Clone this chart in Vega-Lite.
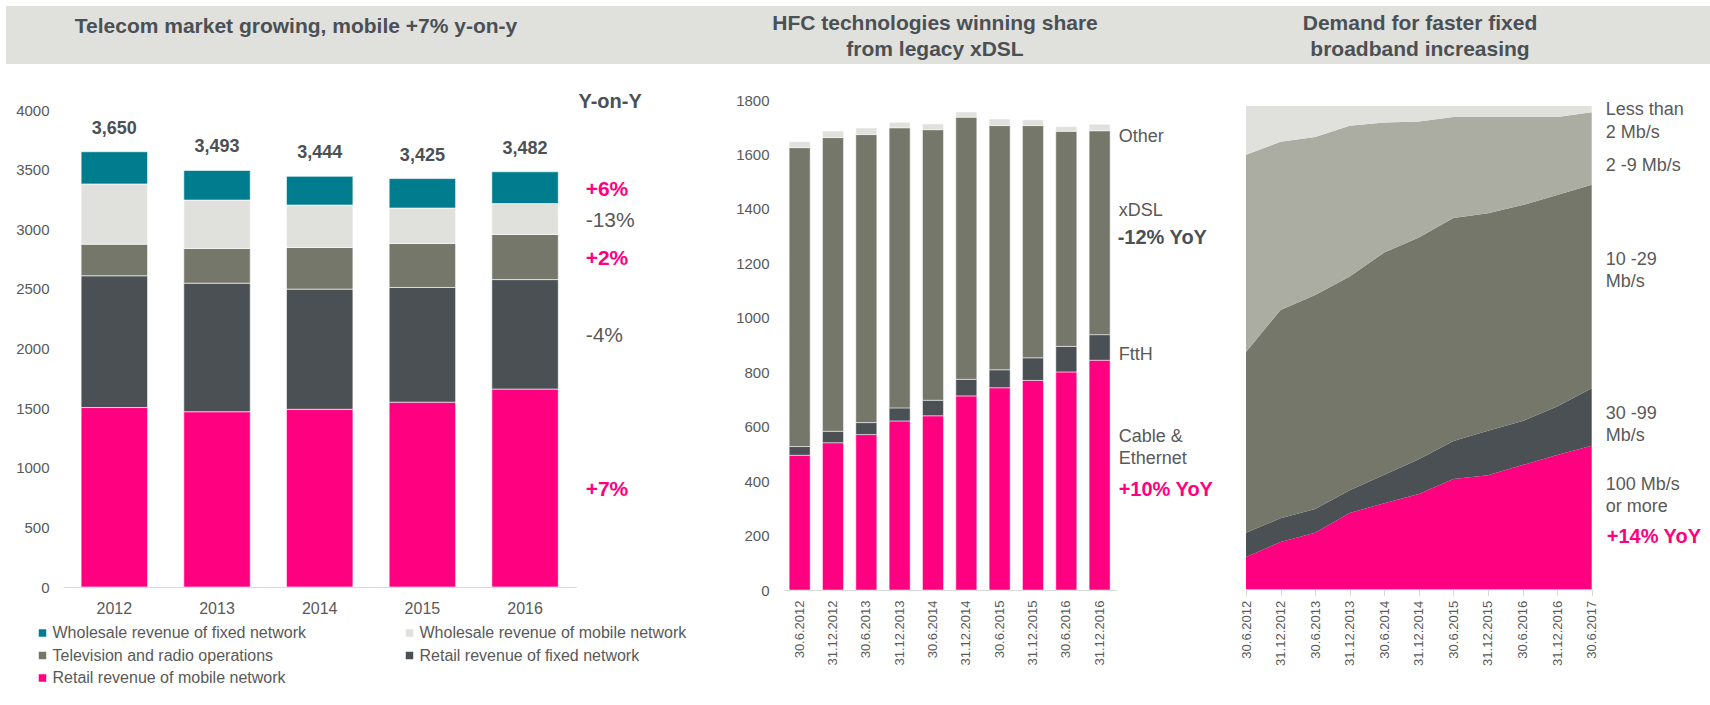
{
  "$schema": "https://vega.github.io/schema/vega-lite/v6.json",
  "background": "white",
  "padding": {"left": 6, "top": 6, "right": 0, "bottom": 0},
  "spacing": 28,
  "config": {
    "view": {"stroke": null},
    "axis": {"grid": false, "labelColor": "#595959", "labelFont": "Liberation Sans"},
    "text": {"font": "Liberation Sans"},
    "title": {"font": "Liberation Sans"}
  },
  "datasets": {
    "revenue": [
      {"year": "2012", "cat": "Retail revenue of mobile network", "value": 1505},
      {"year": "2012", "cat": "Retail revenue of fixed network", "value": 1105},
      {"year": "2012", "cat": "Television and radio operations", "value": 265},
      {"year": "2012", "cat": "Wholesale revenue of mobile network", "value": 505},
      {"year": "2012", "cat": "Wholesale revenue of fixed network", "value": 270},
      {"year": "2013", "cat": "Retail revenue of mobile network", "value": 1470},
      {"year": "2013", "cat": "Retail revenue of fixed network", "value": 1078},
      {"year": "2013", "cat": "Television and radio operations", "value": 291},
      {"year": "2013", "cat": "Wholesale revenue of mobile network", "value": 406},
      {"year": "2013", "cat": "Wholesale revenue of fixed network", "value": 248},
      {"year": "2014", "cat": "Retail revenue of mobile network", "value": 1490},
      {"year": "2014", "cat": "Retail revenue of fixed network", "value": 1008},
      {"year": "2014", "cat": "Television and radio operations", "value": 349},
      {"year": "2014", "cat": "Wholesale revenue of mobile network", "value": 356},
      {"year": "2014", "cat": "Wholesale revenue of fixed network", "value": 241},
      {"year": "2015", "cat": "Retail revenue of mobile network", "value": 1550},
      {"year": "2015", "cat": "Retail revenue of fixed network", "value": 962},
      {"year": "2015", "cat": "Television and radio operations", "value": 369},
      {"year": "2015", "cat": "Wholesale revenue of mobile network", "value": 297},
      {"year": "2015", "cat": "Wholesale revenue of fixed network", "value": 247},
      {"year": "2016", "cat": "Retail revenue of mobile network", "value": 1660, "yoy": "+7%"},
      {"year": "2016", "cat": "Retail revenue of fixed network", "value": 918, "yoy": "-4%"},
      {"year": "2016", "cat": "Television and radio operations", "value": 378, "yoy": "+2%"},
      {"year": "2016", "cat": "Wholesale revenue of mobile network", "value": 260, "yoy": "-13%"},
      {"year": "2016", "cat": "Wholesale revenue of fixed network", "value": 266, "yoy": "+6%"}
    ],
    "connections": [
      {"date": "30.6.2012", "tech": "Cable &\nEthernet", "value": 495},
      {"date": "30.6.2012", "tech": "FttH", "value": 32},
      {"date": "30.6.2012", "tech": "xDSL", "value": 1098},
      {"date": "30.6.2012", "tech": "Other", "value": 22},
      {"date": "31.12.2012", "tech": "Cable &\nEthernet", "value": 541},
      {"date": "31.12.2012", "tech": "FttH", "value": 42},
      {"date": "31.12.2012", "tech": "xDSL", "value": 1079},
      {"date": "31.12.2012", "tech": "Other", "value": 24},
      {"date": "30.6.2013", "tech": "Cable &\nEthernet", "value": 571},
      {"date": "30.6.2013", "tech": "FttH", "value": 44},
      {"date": "30.6.2013", "tech": "xDSL", "value": 1058},
      {"date": "30.6.2013", "tech": "Other", "value": 24},
      {"date": "31.12.2013", "tech": "Cable &\nEthernet", "value": 621},
      {"date": "31.12.2013", "tech": "FttH", "value": 48},
      {"date": "31.12.2013", "tech": "xDSL", "value": 1029},
      {"date": "31.12.2013", "tech": "Other", "value": 20},
      {"date": "30.6.2014", "tech": "Cable &\nEthernet", "value": 640},
      {"date": "30.6.2014", "tech": "FttH", "value": 57},
      {"date": "30.6.2014", "tech": "xDSL", "value": 994},
      {"date": "30.6.2014", "tech": "Other", "value": 21},
      {"date": "31.12.2014", "tech": "Cable &\nEthernet", "value": 713},
      {"date": "31.12.2014", "tech": "FttH", "value": 61},
      {"date": "31.12.2014", "tech": "xDSL", "value": 963},
      {"date": "31.12.2014", "tech": "Other", "value": 19},
      {"date": "30.6.2015", "tech": "Cable &\nEthernet", "value": 743},
      {"date": "30.6.2015", "tech": "FttH", "value": 66},
      {"date": "30.6.2015", "tech": "xDSL", "value": 897},
      {"date": "30.6.2015", "tech": "Other", "value": 24},
      {"date": "31.12.2015", "tech": "Cable &\nEthernet", "value": 770},
      {"date": "31.12.2015", "tech": "FttH", "value": 83},
      {"date": "31.12.2015", "tech": "xDSL", "value": 853},
      {"date": "31.12.2015", "tech": "Other", "value": 21},
      {"date": "30.6.2016", "tech": "Cable &\nEthernet", "value": 801},
      {"date": "30.6.2016", "tech": "FttH", "value": 94},
      {"date": "30.6.2016", "tech": "xDSL", "value": 790},
      {"date": "30.6.2016", "tech": "Other", "value": 17},
      {"date": "31.12.2016", "tech": "Cable &\nEthernet", "value": 844, "yoy": "+10% YoY"},
      {"date": "31.12.2016", "tech": "FttH", "value": 94},
      {"date": "31.12.2016", "tech": "xDSL", "value": 749, "yoy": "-12% YoY"},
      {"date": "31.12.2016", "tech": "Other", "value": 24}
    ],
    "speeds": [
      {"date": "30.6.2012", "band": "100 Mb/s\nor more", "share": 6.7},
      {"date": "30.6.2012", "band": "30 -99\nMb/s", "share": 5.0},
      {"date": "30.6.2012", "band": "10 -29\nMb/s", "share": 37.4},
      {"date": "30.6.2012", "band": "2 -9 Mb/s", "share": 40.8},
      {"date": "30.6.2012", "band": "Less than\n2 Mb/s", "share": 10.1},
      {"date": "31.12.2012", "band": "100 Mb/s\nor more", "share": 9.8},
      {"date": "31.12.2012", "band": "30 -99\nMb/s", "share": 4.9},
      {"date": "31.12.2012", "band": "10 -29\nMb/s", "share": 43.1},
      {"date": "31.12.2012", "band": "2 -9 Mb/s", "share": 34.8},
      {"date": "31.12.2012", "band": "Less than\n2 Mb/s", "share": 7.4},
      {"date": "30.6.2013", "band": "100 Mb/s\nor more", "share": 11.7},
      {"date": "30.6.2013", "band": "30 -99\nMb/s", "share": 4.9},
      {"date": "30.6.2013", "band": "10 -29\nMb/s", "share": 44.3},
      {"date": "30.6.2013", "band": "2 -9 Mb/s", "share": 32.7},
      {"date": "30.6.2013", "band": "Less than\n2 Mb/s", "share": 6.4},
      {"date": "31.12.2013", "band": "100 Mb/s\nor more", "share": 15.8},
      {"date": "31.12.2013", "band": "30 -99\nMb/s", "share": 4.7},
      {"date": "31.12.2013", "band": "10 -29\nMb/s", "share": 44.2},
      {"date": "31.12.2013", "band": "2 -9 Mb/s", "share": 31.2},
      {"date": "31.12.2013", "band": "Less than\n2 Mb/s", "share": 4.1},
      {"date": "30.6.2014", "band": "100 Mb/s\nor more", "share": 17.8},
      {"date": "30.6.2014", "band": "30 -99\nMb/s", "share": 5.9},
      {"date": "30.6.2014", "band": "10 -29\nMb/s", "share": 46.0},
      {"date": "30.6.2014", "band": "2 -9 Mb/s", "share": 26.9},
      {"date": "30.6.2014", "band": "Less than\n2 Mb/s", "share": 3.4},
      {"date": "31.12.2014", "band": "100 Mb/s\nor more", "share": 19.7},
      {"date": "31.12.2014", "band": "30 -99\nMb/s", "share": 7.2},
      {"date": "31.12.2014", "band": "10 -29\nMb/s", "share": 45.9},
      {"date": "31.12.2014", "band": "2 -9 Mb/s", "share": 24.0},
      {"date": "31.12.2014", "band": "Less than\n2 Mb/s", "share": 3.2},
      {"date": "30.6.2015", "band": "100 Mb/s\nor more", "share": 22.8},
      {"date": "30.6.2015", "band": "30 -99\nMb/s", "share": 7.9},
      {"date": "30.6.2015", "band": "10 -29\nMb/s", "share": 46.1},
      {"date": "30.6.2015", "band": "2 -9 Mb/s", "share": 20.9},
      {"date": "30.6.2015", "band": "Less than\n2 Mb/s", "share": 2.3},
      {"date": "31.12.2015", "band": "100 Mb/s\nor more", "share": 23.6},
      {"date": "31.12.2015", "band": "30 -99\nMb/s", "share": 9.2},
      {"date": "31.12.2015", "band": "10 -29\nMb/s", "share": 45.0},
      {"date": "31.12.2015", "band": "2 -9 Mb/s", "share": 19.9},
      {"date": "31.12.2015", "band": "Less than\n2 Mb/s", "share": 2.3},
      {"date": "30.6.2016", "band": "100 Mb/s\nor more", "share": 25.7},
      {"date": "30.6.2016", "band": "30 -99\nMb/s", "share": 9.1},
      {"date": "30.6.2016", "band": "10 -29\nMb/s", "share": 44.7},
      {"date": "30.6.2016", "band": "2 -9 Mb/s", "share": 18.2},
      {"date": "30.6.2016", "band": "Less than\n2 Mb/s", "share": 2.3},
      {"date": "31.12.2016", "band": "100 Mb/s\nor more", "share": 27.8},
      {"date": "31.12.2016", "band": "30 -99\nMb/s", "share": 10.0},
      {"date": "31.12.2016", "band": "10 -29\nMb/s", "share": 43.8},
      {"date": "31.12.2016", "band": "2 -9 Mb/s", "share": 16.1},
      {"date": "31.12.2016", "band": "Less than\n2 Mb/s", "share": 2.3},
      {"date": "30.6.2017", "band": "100 Mb/s\nor more", "share": 29.7, "yoy": "+14% YoY"},
      {"date": "30.6.2017", "band": "30 -99\nMb/s", "share": 11.9},
      {"date": "30.6.2017", "band": "10 -29\nMb/s", "share": 42.1},
      {"date": "30.6.2017", "band": "2 -9 Mb/s", "share": 15.0},
      {"date": "30.6.2017", "band": "Less than\n2 Mb/s", "share": 1.3}
    ]
  },
  "vconcat": [
    {
      "spacing": 0,
      "bounds": "flush",
      "hconcat": [
        {
          "width": 694, "height": 58,
          "view": {"fill": "#e0e0dc", "stroke": null},
          "data": {"values": [{"t": "Telecom market growing, mobile +7% y-on-y"}]},
          "mark": {"type": "text", "fontSize": 21, "fontWeight": "bold", "color": "#4b5055", "dx": -57, "dy": -8.5},
          "encoding": {"text": {"field": "t"}}
        },
        {
          "width": 522, "height": 58,
          "view": {"fill": "#e0e0dc", "stroke": null},
          "data": {"values": [{"t": "HFC technologies winning share\nfrom legacy xDSL"}]},
          "mark": {"type": "text", "fontSize": 21, "fontWeight": "bold", "color": "#4b5055", "lineBreak": "\n", "lineHeight": 26, "dx": -26, "dy": -11},
          "encoding": {"text": {"field": "t"}}
        },
        {
          "width": 488, "height": 58,
          "view": {"fill": "#e0e0dc", "stroke": null},
          "data": {"values": [{"t": "Demand for faster fixed\nbroadband increasing"}]},
          "mark": {"type": "text", "fontSize": 21, "fontWeight": "bold", "color": "#4b5055", "lineBreak": "\n", "lineHeight": 26, "dx": -46, "dy": -11},
          "encoding": {"text": {"field": "t"}}
        }
      ]
    },
    {
      "spacing": 0,
      "bounds": "flush",
      "resolve": {"scale": {"color": "independent"}, "legend": {"color": "independent"}},
      "hconcat": [
        {
          "width": 56.5, "height": 10,
          "data": {"values": [{}]},
          "mark": {"type": "text"},
          "encoding": {}
        },
        {
          "width": 513.4, "height": 487,
          "data": {"name": "revenue"},
          "transform": [{"stack": "value", "groupby": ["year"], "as": ["v0", "v1"]}],
          "title": {"text": "Y-on-Y", "anchor": "end", "align": "left", "frame": "group", "offset": -12, "dx": 2, "fontSize": 20, "fontWeight": "bold", "color": "#4b5055"},
          "encoding": {
            "x": {"field": "year", "type": "ordinal", "sort": null,
                  "scale": {"paddingInner": 0.353, "paddingOuter": 0.1765},
                  "axis": {"title": null, "labelAngle": 0, "ticks": false, "domainColor": "#d9d9d9", "labelPadding": 13, "labelFontSize": 16}}
          },
          "layer": [
            {
              "mark": {"type": "bar", "stroke": "#ffffff", "strokeWidth": 0.6},
              "encoding": {
                "y": {"field": "v1", "type": "quantitative", "scale": {"domain": [0, 4084], "nice": false},
                      "axis": {"title": null, "values": [0, 500, 1000, 1500, 2000, 2500, 3000, 3500, 4000], "format": "d", "ticks": false, "domain": false, "labelPadding": 14, "labelFontSize": 15}},
                "y2": {"field": "v0"},
                "color": {"field": "cat", "type": "nominal",
                  "scale": {"domain": ["Wholesale revenue of fixed network", "Wholesale revenue of mobile network", "Television and radio operations", "Retail revenue of fixed network", "Retail revenue of mobile network"],
                            "range": ["#007c8f", "#e0e0dc", "#75776b", "#4b5055", "#ff0080"]},
                  "legend": {"title": null, "orient": "none", "legendX": -28.5, "legendY": 525, "direction": "horizontal", "columns": 2, "columnPadding": 95, "rowPadding": 6.5, "symbolType": "square", "symbolSize": 56, "symbolStrokeWidth": 0, "labelFontSize": 16, "labelColor": "#595959", "labelOffset": 2, "padding": 0, "labelLimit": 400}}
              }
            },
            {
              "transform": [{"aggregate": [{"op": "sum", "field": "value", "as": "total"}], "groupby": ["year"]}],
              "mark": {"type": "text", "dy": -23, "fontSize": 18, "fontWeight": "bold", "color": "#4b5055"},
              "encoding": {
                "y": {"field": "total", "type": "quantitative", "scale": {"domain": [0, 4084], "nice": false}},
                "text": {"field": "total", "type": "quantitative", "format": ","}
              }
            },
            {
              "transform": [
                {"filter": "datum.yoy != null"},
                {"fold": ["v0", "v1"], "as": ["edge", "pos"]},
                {"aggregate": [{"op": "mean", "field": "pos", "as": "mid"}], "groupby": ["year", "cat", "yoy"]}
              ],
              "layer": [
                {
                  "transform": [{"filter": "indexof(datum.yoy, '+') === 0"}],
                  "mark": {"type": "text", "align": "left", "dx": 60.6, "dy": 2, "fontSize": 21, "fontWeight": "bold", "color": "#ff0080"},
                  "encoding": {
                    "y": {"field": "mid", "type": "quantitative", "scale": {"domain": [0, 4084], "nice": false}},
                    "text": {"field": "yoy"}
                  }
                },
                {
                  "transform": [{"filter": "indexof(datum.yoy, '-') === 0"}],
                  "mark": {"type": "text", "align": "left", "dx": 60.6, "dy": 2, "fontSize": 21, "color": "#595959"},
                  "encoding": {
                    "y": {"field": "mid", "type": "quantitative", "scale": {"domain": [0, 4084], "nice": false}},
                    "text": {"field": "yoy"}
                  }
                }
              ]
            }
          ]
        },
        {
          "width": 205.8, "height": 10,
          "data": {"values": [{}]},
          "mark": {"type": "text"},
          "encoding": {}
        },
        {
          "width": 333.3, "height": 490,
          "data": {"name": "connections"},
          "transform": [{"stack": "value", "groupby": ["date"], "as": ["v0", "v1"]}],
          "encoding": {
            "x": {"field": "date", "type": "ordinal", "sort": null,
                  "scale": {"paddingInner": 0.37, "paddingOuter": 0.185},
                  "axis": {"title": null, "labelAngle": -90, "ticks": false, "domainColor": "#d9d9d9", "labelPadding": 10, "labelFontSize": 13}}
          },
          "layer": [
            {
              "mark": {"type": "bar", "stroke": "#ffffff", "strokeWidth": 0.5},
              "encoding": {
                "y": {"field": "v1", "type": "quantitative", "scale": {"domain": [0, 1800], "nice": false},
                      "axis": {"title": null, "tickCount": 9, "format": "d", "ticks": false, "domain": false, "labelPadding": 14, "labelFontSize": 15}},
                "y2": {"field": "v0"},
                "color": {"field": "tech", "type": "nominal",
                  "scale": {"domain": ["Other", "xDSL", "FttH", "Cable &\nEthernet"], "range": ["#e0e0dc", "#75776b", "#4b5055", "#ff0080"]},
                  "legend": null}
              }
            },
            {
              "transform": [
                {"filter": "datum.date === '31.12.2016'"},
                {"fold": ["v0", "v1"], "as": ["edge", "pos"]},
                {"aggregate": [{"op": "mean", "field": "pos", "as": "mid"}], "groupby": ["date", "tech", "yoy"]}
              ],
              "encoding": {
                "y": {"field": "mid", "type": "quantitative", "scale": {"domain": [0, 1800], "nice": false}}
              },
              "layer": [
                {
                  "transform": [{"filter": "datum.tech === 'Other'"}],
                  "mark": {"type": "text", "align": "left", "dx": 19, "dy": 10, "fontSize": 18, "color": "#595959"},
                  "encoding": {"text": {"field": "tech"}}
                },
                {
                  "transform": [{"filter": "datum.tech === 'FttH'"}],
                  "mark": {"type": "text", "align": "left", "dx": 19, "dy": 8, "fontSize": 18, "color": "#595959"},
                  "encoding": {"text": {"field": "tech"}}
                },
                {
                  "transform": [{"filter": "datum.tech === 'xDSL'"}],
                  "mark": {"type": "text", "align": "left", "dx": 19, "dy": -22, "fontSize": 18, "color": "#595959"},
                  "encoding": {"text": {"field": "tech"}}
                },
                {
                  "transform": [{"filter": "indexof(datum.tech, 'Cable') === 0"}],
                  "mark": {"type": "text", "align": "left", "dx": 19, "dy": -38, "fontSize": 18, "lineBreak": "\n", "lineHeight": 22, "color": "#595959"},
                  "encoding": {"text": {"field": "tech"}}
                },
                {
                  "transform": [{"filter": "datum.yoy === '-12% YoY'"}],
                  "mark": {"type": "text", "align": "left", "dx": 18, "dy": 5, "fontSize": 20, "fontWeight": "bold", "color": "#4b5055"},
                  "encoding": {"text": {"field": "yoy"}}
                },
                {
                  "transform": [{"filter": "datum.yoy === '+10% YoY'"}],
                  "mark": {"type": "text", "align": "left", "dx": 19, "dy": 15, "fontSize": 20, "fontWeight": "bold", "color": "#ff0080"},
                  "encoding": {"text": {"field": "yoy"}}
                }
              ]
            }
          ]
        },
        {
          "width": 128.3, "height": 10,
          "data": {"values": [{}]},
          "mark": {"type": "text"},
          "encoding": {}
        },
        {
          "width": 345.7, "height": 489.3,
          "data": {"name": "speeds"},
          "transform": [{"stack": "share", "groupby": ["date"], "as": ["v0", "v1"]}],
          "encoding": {
            "x": {"field": "date", "type": "ordinal", "sort": null,
                  "scale": {"type": "point", "padding": 0},
                  "axis": {"title": null, "labelAngle": -90, "ticks": true, "tickColor": "#d9d9d9", "tickSize": 6, "domainColor": "#d9d9d9", "labelPadding": 5, "labelFontSize": 13}}
          },
          "layer": [
            {
              "mark": {"type": "area", "interpolate": "linear"},
              "encoding": {
                "y": {"field": "v1", "type": "quantitative", "scale": {"domain": [0, 101.24], "nice": false}, "axis": null},
                "y2": {"field": "v0"},
                "order": {"value": null},
                "color": {"field": "band", "type": "nominal",
                  "scale": {"domain": ["Less than\n2 Mb/s", "2 -9 Mb/s", "10 -29\nMb/s", "30 -99\nMb/s", "100 Mb/s\nor more"],
                            "range": ["#e0e0dc", "#abada3", "#75776b", "#4b5055", "#ff0080"]},
                  "legend": null}
              }
            },
            {
              "transform": [
                {"filter": "datum.date === '30.6.2017'"},
                {"fold": ["v0", "v1"], "as": ["edge", "pos"]},
                {"aggregate": [{"op": "mean", "field": "pos", "as": "mid"}], "groupby": ["date", "band", "yoy"]}
              ],
              "encoding": {
                "y": {"field": "mid", "type": "quantitative", "scale": {"domain": [0, 101.24], "nice": false}, "axis": null},
                "text": {"field": "band"}
              },
              "layer": [
                {
                  "transform": [{"filter": "indexof(datum.band, 'Less') === 0"}],
                  "mark": {"type": "text", "align": "left", "dx": 14, "dy": 1, "fontSize": 18, "lineBreak": "\n", "lineHeight": 23, "color": "#595959"}
                },
                {
                  "transform": [{"filter": "indexof(datum.band, '2 -9') === 0"}],
                  "mark": {"type": "text", "align": "left", "dx": 14, "dy": 17, "fontSize": 18, "color": "#595959"}
                },
                {
                  "transform": [{"filter": "indexof(datum.band, '10 -29') === 0"}],
                  "mark": {"type": "text", "align": "left", "dx": 14, "dy": -26.5, "fontSize": 18, "lineBreak": "\n", "lineHeight": 22, "color": "#595959"}
                },
                {
                  "transform": [{"filter": "indexof(datum.band, '30 -99') === 0"}],
                  "mark": {"type": "text", "align": "left", "dx": 14, "dy": -3, "fontSize": 18, "lineBreak": "\n", "lineHeight": 22, "color": "#595959"}
                },
                {
                  "transform": [{"filter": "indexof(datum.band, '100 Mb') === 0"}],
                  "mark": {"type": "text", "align": "left", "dx": 14, "dy": -32.5, "fontSize": 18, "lineBreak": "\n", "lineHeight": 22, "color": "#595959"}
                },
                {
                  "transform": [{"filter": "datum.yoy != null"}],
                  "mark": {"type": "text", "align": "left", "dx": 15, "dy": 19, "fontSize": 20, "fontWeight": "bold", "color": "#ff0080"},
                  "encoding": {"text": {"field": "yoy"}}
                }
              ]
            }
          ]
        }
      ]
    }
  ]
}
